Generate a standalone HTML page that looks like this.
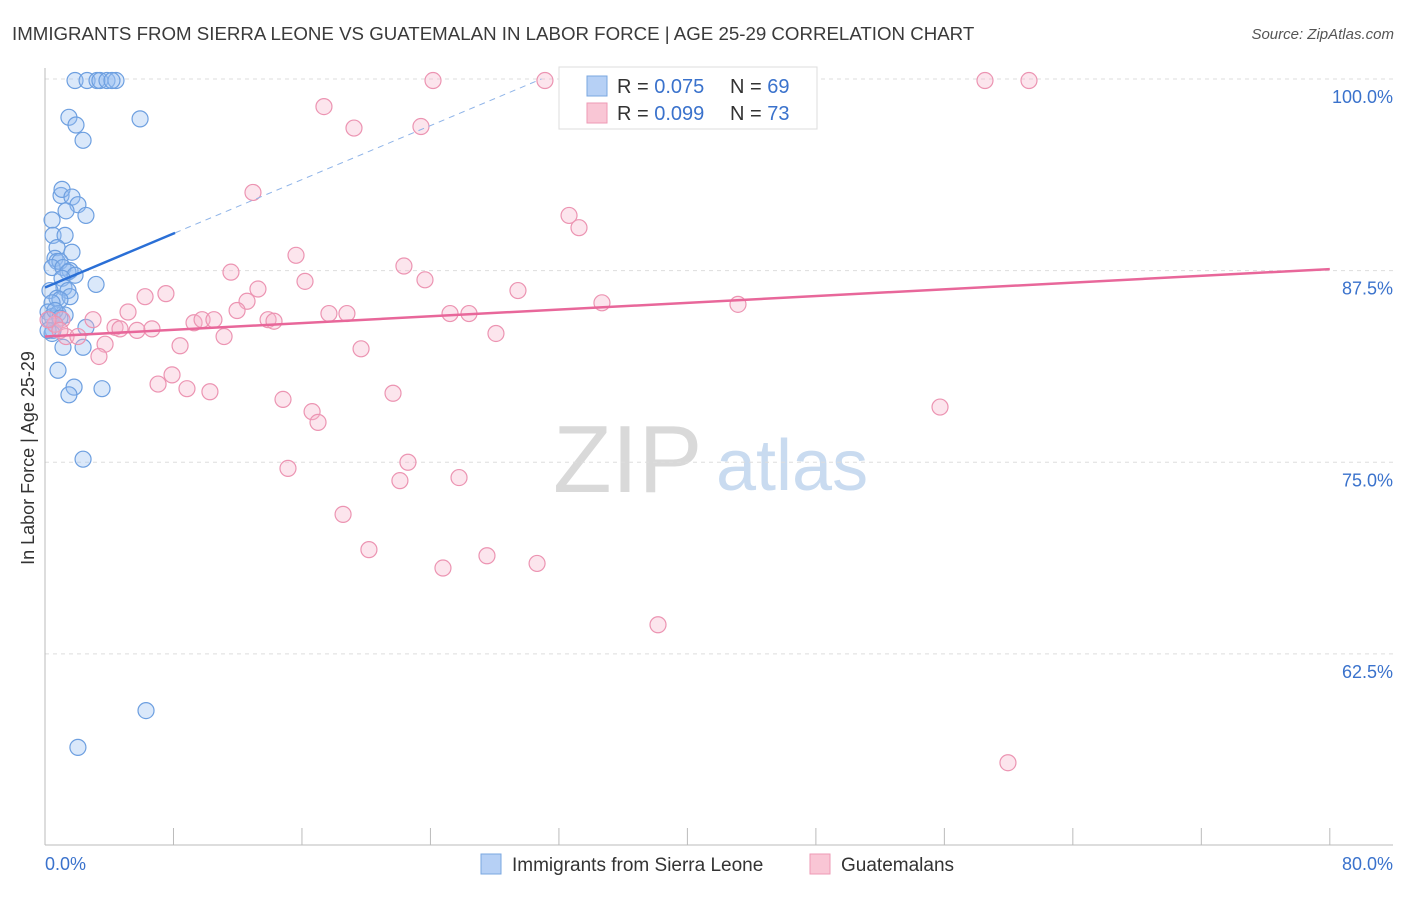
<!DOCTYPE html>
<html><head><meta charset="utf-8"><style>
body{margin:0;background:#fff;font-family:"Liberation Sans",sans-serif;}
svg text{font-family:"Liberation Sans",sans-serif;}
</style></head><body>
<svg id="chart" width="1406" height="892" viewBox="0 0 1406 892" xmlns="http://www.w3.org/2000/svg">
<text x="12" y="40" font-size="18.7" fill="#3a3a3a">IMMIGRANTS FROM SIERRA LEONE VS GUATEMALAN IN LABOR FORCE | AGE 25-29 CORRELATION CHART</text>
<text x="1394" y="39" font-size="15" fill="#555" text-anchor="end" font-style="italic">Source: ZipAtlas.com</text>
<text transform="translate(34,458) rotate(-90)" font-size="18" fill="#333" text-anchor="middle">In Labor Force | Age 25-29</text>
<text x="553" y="492" font-size="96" fill="#d9d9d9" font-family="Liberation Serif">ZIP</text>
<text x="716" y="490" font-size="72" fill="#c9dbf0">atlas</text>
<g id="grid"></g><g id="axes"></g><g id="pts"></g><g id="trend"></g>
<g>
<rect x="559" y="67" width="258" height="62" fill="#fff" stroke="#ddd"/>
<rect x="587" y="76" width="20" height="20" fill="#b6d0f5" stroke="#7aa7e0"/>
<text x="617" y="93" font-size="20" fill="#333">R = <tspan fill="#3a72cc">0.075</tspan></text>
<text x="730" y="93" font-size="20" fill="#333">N = <tspan fill="#3a72cc">69</tspan></text>
<rect x="587" y="103" width="20" height="20" fill="#f9c6d5" stroke="#ee9ab5"/>
<text x="617" y="120" font-size="20" fill="#333">R = <tspan fill="#3a72cc">0.099</tspan></text>
<text x="730" y="120" font-size="20" fill="#333">N = <tspan fill="#3a72cc">73</tspan></text>
</g>
<g>
<rect x="481" y="854" width="20" height="20" fill="#b6d0f5" stroke="#7aa7e0"/>
<text x="512" y="871" font-size="19" fill="#333">Immigrants from Sierra Leone</text>
<rect x="810" y="854" width="20" height="20" fill="#f9c6d5" stroke="#ee9ab5"/>
<text x="841" y="871" font-size="19" fill="#333">Guatemalans</text>
</g>
</svg>
<script>
const blueX=[1.87,2.62,3.24,3.42,3.86,4.42,4.17,1.49,1.93,2.37,5.92,1.0,1.06,1.68,2.05,1.31,2.55,0.44,0.5,1.25,0.75,1.68,0.62,0.75,0.93,0.44,1.12,1.56,1.43,1.87,1.06,3.18,1.18,1.43,0.31,0.75,1.56,0.93,0.44,0.19,0.44,0.81,1.25,0.31,0.62,0.5,2.55,0.44,1.12,2.37,0.81,1.81,3.55,1.49,2.37,6.29,2.05,0.62,0.19,0.93];
const blueY=[99.9,99.9,99.9,99.9,99.9,99.9,99.9,97.5,97.0,96.0,97.4,92.4,92.8,92.3,91.8,91.4,91.1,90.8,89.8,89.8,89.0,88.7,88.3,88.1,88.1,87.7,87.7,87.5,87.4,87.2,87.0,86.6,86.4,86.2,86.2,85.7,85.8,85.6,85.4,84.8,84.5,84.7,84.6,84.3,84.0,83.6,83.8,83.4,82.5,82.5,81.0,79.9,79.8,79.4,75.2,58.8,56.4,84.9,83.6,84.4];
const pinkX=[24.16,31.13,38.29,58.53,61.27,17.37,19.24,23.41,12.95,32.63,33.25,15.63,22.35,11.58,23.66,16.19,13.26,29.45,6.23,7.53,12.58,34.68,43.15,5.17,11.96,17.68,18.80,25.22,26.40,13.89,14.26,9.28,9.78,10.52,2.99,1.06,4.36,4.67,5.73,6.66,11.15,28.08,1.31,2.05,3.74,8.41,19.68,3.36,7.91,7.04,8.84,10.27,21.67,14.82,16.63,17.0,55.73,22.6,15.13,22.1,25.78,18.56,20.17,24.78,27.52,30.64,38.17,59.96,0.62,0.93,0.19];
const pinkY=[99.9,99.9,99.9,99.9,99.9,98.2,96.8,96.9,92.6,91.1,90.3,88.5,87.8,87.4,86.9,86.8,86.3,86.2,85.8,86.0,85.5,85.4,85.3,84.8,84.9,84.7,84.7,84.7,84.7,84.3,84.2,84.1,84.3,84.3,84.3,84.3,83.8,83.7,83.6,83.7,83.2,83.4,83.2,83.2,82.7,82.6,82.4,81.9,80.7,80.1,79.8,79.6,79.5,79.1,78.3,77.6,78.6,75.0,74.6,73.8,74.0,71.6,69.3,68.1,68.9,68.4,64.4,55.4,84.0,83.6,84.3];
const yTicks=[100,87.5,75,62.5];
const yTickLabels=["100.0%","87.5%","75.0%","62.5%"];
const xTicks=[0,8,16,24,32,40,48,56,64,72,80];
const blueTrend=[86.4,0.44];
const pinkTrend=[83.2,0.055];
const NS="http://www.w3.org/2000/svg";
const sx=v=>45+v*16.06;
const sy=v=>79+(100-v)*15.33;
function mk(tag,attrs,parent){const e=document.createElementNS(NS,tag);for(const k in attrs)e.setAttribute(k,attrs[k]);document.getElementById(parent).appendChild(e);return e;}
yTicks.forEach((t,i)=>{
 const l=mk('line',{x1:45,x2:1393,y1:sy(t),y2:sy(t),stroke:'#ddd','stroke-dasharray':'4,4'},'grid');
 
 
 const tx=mk('text',{x:1393,y:sy(t)+24,'font-size':18,fill:'#3a72cc','text-anchor':'end'},'grid');
 tx.textContent=yTickLabels[i];
 
 
});
const ax=mk('line',{x1:45,x2:45,y1:68,y2:845,stroke:'#bbb'},'axes');


const bx=mk('line',{x1:45,x2:1393,y1:845,y2:845,stroke:'#bbb'},'axes');


xTicks.forEach(t=>{const l=mk('line',{x1:sx(t),x2:sx(t),y1:828,y2:845,stroke:'#bbb'},'axes');
 
 });
const xl=mk('text',{x:45,y:870,'font-size':18,fill:'#3a72cc'},'axes');xl.textContent='0.0%';


const xr=mk('text',{x:1393,y:870,'font-size':18,fill:'#3a72cc','text-anchor':'end'},'axes');xr.textContent='80.0%';


blueX.forEach((x,i)=>{const c=mk('circle',{cx:sx(x),cy:sy(blueY[i]),r:8,fill:'rgba(150,190,240,0.35)',stroke:'#6d9fe0','stroke-width':1.2},'pts');
 
 });
pinkX.forEach((x,i)=>{const c=mk('circle',{cx:sx(x),cy:sy(pinkY[i]),r:8,fill:'rgba(247,180,202,0.35)',stroke:'#ec94b2','stroke-width':1.2},'pts');
 
 });
const bEnd=8.1, bDashEnd=(100-blueTrend[0])/blueTrend[1];
const t1=mk('line',{x1:sx(0),y1:sy(blueTrend[0]),x2:sx(bEnd),y2:sy(blueTrend[0]+blueTrend[1]*bEnd),stroke:'#2a6fd6','stroke-width':2.5},'trend');


const t2=mk('line',{x1:sx(bEnd),y1:sy(blueTrend[0]+blueTrend[1]*bEnd),x2:sx(bDashEnd),y2:sy(100),stroke:'#8fb4e8','stroke-width':1,'stroke-dasharray':'6,5'},'trend');


const t3=mk('line',{x1:sx(0),y1:sy(pinkTrend[0]),x2:sx(80),y2:sy(pinkTrend[0]+pinkTrend[1]*80),stroke:'#e8679a','stroke-width':2.5},'trend');


</script>
</body></html>
